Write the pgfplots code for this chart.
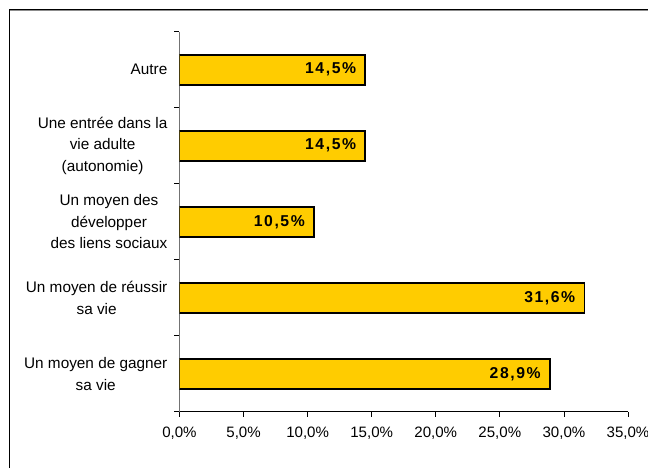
\documentclass[border=0pt]{standalone}
\usepackage{fontspec}
\setmainfont{Liberation Sans}
\usepackage{pgfplots}
\pgfplotsset{compat=1.18}
\definecolor{barfill}{HTML}{FFCC00}
\begin{document}
\begin{tikzpicture}
\path[use as bounding box] (0,0) rectangle (486pt,351pt);
% chart frame (only left and top edges are visible)
\draw[black!45, line width=0.7pt] (7.6pt,342.9pt) -- (486pt,342.9pt);
\draw[black, line width=1.1pt] (7.1pt,0) -- (7.1pt,343.9pt) -- (486pt,343.9pt);
\begin{axis}[
  at={(134.6pt,42.2pt)}, anchor=south west,
  scale only axis, width=336.4pt, height=285pt,
  xbar, bar width=0.395,
  xmin=0, xmax=35, ymin=0.5, ymax=5.5,
  axis x line*=bottom, axis y line*=left,
  x axis line style={black, line width=0.7pt},
  y axis line style={black!55, line width=0.9pt},
  tick align=outside, major tick length=3.75pt,
  tick style={black, line width=0.6pt},
  xtick={0,5,10,15,20,25,30,35},
  xticklabels={{0,0\%},{5,0\%},{10,0\%},{15,0\%},{20,0\%},{25,0\%},{30,0\%},{35,0\%}},
  xticklabel style={yshift=-4.5pt, font=\fontsize{11.3}{13}\selectfont},
  ytick={0.5,1.5,2.5,3.5,4.5,5.5}, yticklabels={},
  extra y ticks={1,2,3,4,5},
  extra y tick labels={
    {Un moyen de gagner\\sa vie},
    {Un moyen de réussir\\sa vie},
    {Un moyen des\\développer\\des liens sociaux},
    {Une entrée dans la\\vie adulte\\(autonomie)},
    {Autre}},
  extra y tick style={tick style={draw=none}},
  yticklabel style={align=center, xshift=-1.8pt, font=\fontsize{11.5}{16.3}\selectfont},
  nodes near coords, point meta=explicit symbolic,
  nodes near coords style={anchor=east, inner sep=0pt, xshift=-6.3pt,
    font=\fontsize{11.8}{13}\selectfont\bfseries\addfontfeature{LetterSpace=10}},
]
\addplot[fill=barfill, draw=black, line width=1.2pt] coordinates {
  (28.9,1) [28,9\%]
  (31.6,2) [31,6\%]
  (10.5,3) [10,5\%]
  (14.5,4) [14,5\%]
  (14.5,5) [14,5\%]
};
\end{axis}
\end{tikzpicture}
\end{document}
